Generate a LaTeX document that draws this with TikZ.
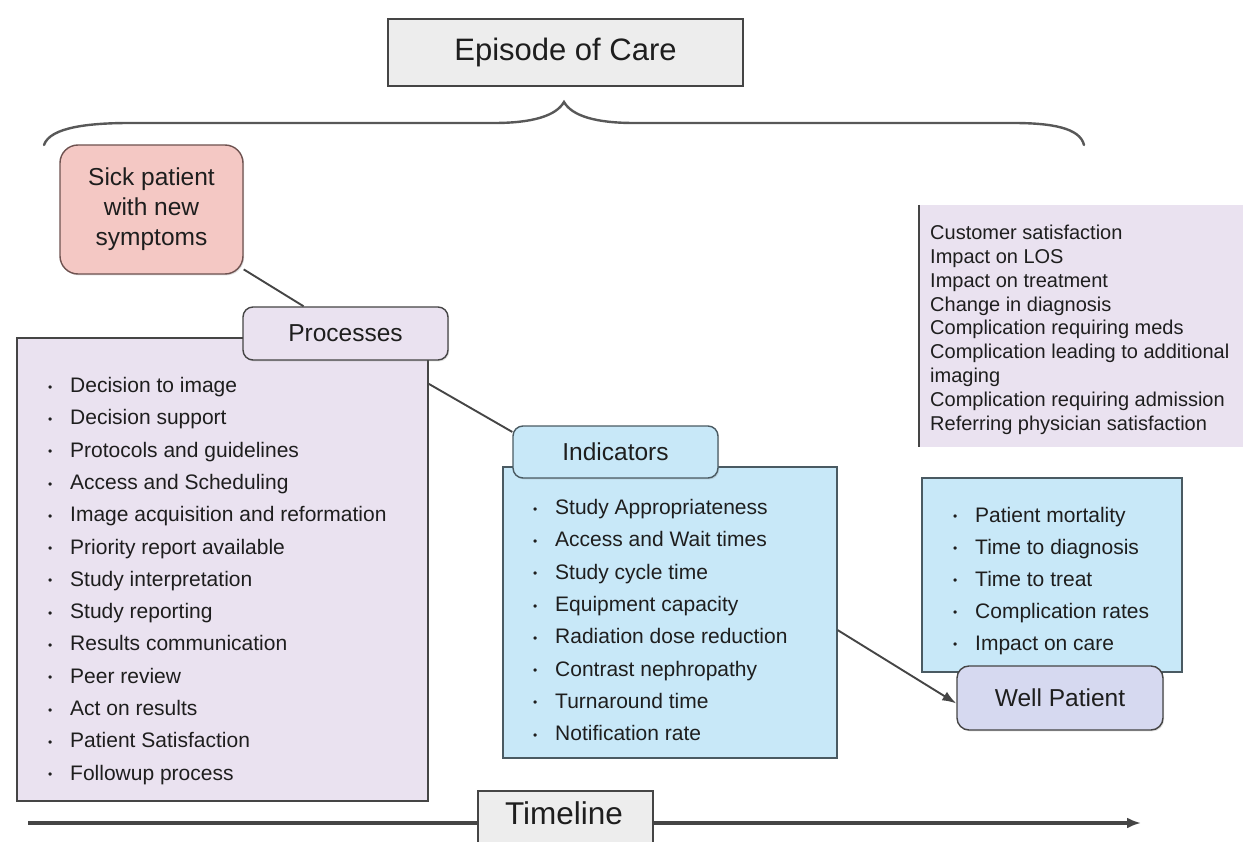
\documentclass[tikz,border=0pt]{standalone}
\usepackage{fontspec}
\setmainfont{Liberation Sans}
\usetikzlibrary{arrows.meta,shadows}

\definecolor{edge}{HTML}{454545}
\definecolor{ink}{HTML}{1E1E1E}
\definecolor{greyfill}{HTML}{EDEDED}
\definecolor{pinkfill}{HTML}{F4C8C4}
\definecolor{pinkedge}{HTML}{6E5250}
\definecolor{lavfill}{HTML}{EAE2F0}
\definecolor{bluefill}{HTML}{C8E8F8}
\definecolor{blueedge}{HTML}{4A5A62}
\definecolor{wellfill}{HTML}{D6D9F0}

% small bullet followed by a fixed indent
\newcommand\bul{\makebox[22pt][l]{\raisebox{1.4pt}{\fontsize{12}{12}\selectfont\textbullet}}}

\tikzset{
  boxbase/.style={draw=edge, line width=1.4pt, inner sep=0pt, text=ink,
    drop shadow={opacity=0.25, shadow xshift=1.2pt, shadow yshift=-1.4pt}},
  titlebox/.style={boxbase, font=\fontsize{31}{36}\selectfont, fill=greyfill},
  tabbox/.style={boxbase, rounded corners=10pt, font=\fontsize{24.5}{30}\selectfont},
  listbox/.style={boxbase},
  item/.style={inner sep=0pt, text=ink, font=\fontsize{21}{25}\selectfont},
  note/.style={inner sep=0pt, text=ink, font=\fontsize{20}{24}\selectfont},
  conn/.style={draw=edge, line width=1.9pt},
  brace/.style={draw=edge!90, line width=2.4pt, line cap=round},
}

\begin{document}
\begin{tikzpicture}[x=1pt,y=-1pt]
\useasboundingbox (0,0) rectangle (1243,842);

% title and the brace spanning the whole episode
\node[titlebox, minimum width=355pt, minimum height=67pt] (episode) at (565.5,52.5) {Episode of Care};
\draw[brace] (44,145) .. controls (50,127) and (90,123) .. (130,123) -- (494,123)
  .. controls (532,123) and (556,116) .. (564,102)
  .. controls (572,116) and (596,123) .. (634,123) -- (1013,123)
  .. controls (1052,123) and (1080,128) .. (1084,145);

% timeline axis
\coordinate (tlstart) at (28,823);
\coordinate (tlend) at (1141,823);
\draw[draw=edge, line width=3.2pt, -{Latex[length=14pt,width=11pt]}] (tlstart) -- (tlend);
\node[boxbase, fill=greyfill, minimum width=175pt, minimum height=72pt] (tlbox) at (565.5,827) {};
\node[inner sep=0pt, text=ink, font=\fontsize{31.5}{36}\selectfont] (tltext) at (564,813) {Timeline};

% starting point
\node[tabbox, fill=pinkfill, draw=pinkedge, rounded corners=18pt, align=center,
      minimum width=183pt, minimum height=129pt] (sick) at (151.5,209.5)
      {Sick patient\\with new\\symptoms};

% processes
\node[listbox, fill=lavfill, minimum width=411pt, minimum height=463pt] (procbox) at (222.5,569.5) {};
\node[tabbox, fill=lavfill, minimum width=205pt, minimum height=53pt] (proctab) at (345.5,333.5) {Processes};
\foreach \t [count=\i from 0] in {Decision to image, Decision support, Protocols and guidelines,
    Access and Scheduling, Image acquisition and reformation, Priority report available,
    Study interpretation, Study reporting, Results communication, Peer review,
    Act on results, Patient Satisfaction, Followup process}
  \node[item, anchor=base west] (proc\i) at (48,{392.5+32.3*\i}) {\bul\t};

% indicators
\node[listbox, fill=bluefill, draw=blueedge, minimum width=334pt, minimum height=291pt] (indbox) at (670,612.5) {};
\node[tabbox, fill=bluefill, draw=blueedge, minimum width=205pt, minimum height=52pt] (indtab) at (615.5,452) {Indicators};
\foreach \t [count=\i from 0] in {Study Appropriateness, Access and Wait times, Study cycle time,
    Equipment capacity, Radiation dose reduction, Contrast nephropathy,
    Turnaround time, Notification rate}
  \node[item, anchor=base west] (ind\i) at (533,{514.5+32.3*\i}) {\bul\t};

% further measures
\node[fill=lavfill, inner sep=0pt, minimum width=324pt, minimum height=242pt] (notes) at (1081,326) {};
\draw[draw=edge, line width=1.6pt] (notes.north west) -- (notes.south west);
\foreach \t [count=\i from 0] in {Customer satisfaction, Impact on LOS, Impact on treatment,
    Change in diagnosis, Complication requiring meds, Complication leading to additional,
    imaging, Complication requiring admission, Referring physician satisfaction}
  \node[note, anchor=base west] (note\i) at (930,{240+23.75*\i}) {\t};

% outcomes
\node[listbox, fill=bluefill, draw=blueedge, minimum width=260pt, minimum height=194pt] (outbox) at (1052,575) {};
\foreach \t [count=\i from 0] in {Patient mortality, Time to diagnosis, Time to treat,
    Complication rates, Impact on care}
  \node[item, anchor=base west] (out\i) at (953,{522+32*\i}) {\bul\t};
\node[tabbox, fill=wellfill, minimum width=206pt, minimum height=64pt, rounded corners=12pt] (wellp) at (1060,698) {Well Patient};

% connectors
\draw[conn] (sick.-33) -- (proctab.147);
\draw[conn] (procbox.42.4) -- (indtab.169.5);
\draw[conn, -{Latex[length=14pt,width=10pt]}] (indbox.-6.7) -- (wellp.183);
\end{tikzpicture}
\end{document}
